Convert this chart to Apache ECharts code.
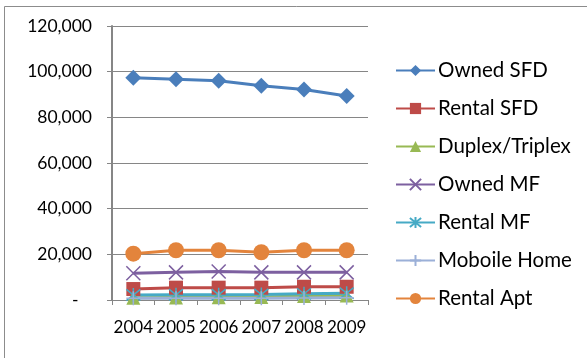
<!DOCTYPE html>
<html>
<head>
<meta charset="utf-8">
<script src="https://cdn.jsdelivr.net/npm/echarts@6/dist/echarts.min.js"></script>
<style>html,body{margin:0;padding:0;background:#fff}#c{width:587px;height:358px}</style>
</head>
<body>
<div id="c"></div>
<script>
var years = ['2004', '2005', '2006', '2007', '2008', '2009'];
var ownedSFD = [97300, 96700, 96000, 93800, 92200, 89300];
var rentalSFD = [4800, 5400, 5400, 5400, 5800, 5800];
var duplexTriplex = [1000, 1100, 1200, 1300, 1800, 2000];
var ownedMF = [11700, 12100, 12500, 12100, 12100, 12100];
var rentalMF = [2200, 2300, 2300, 2400, 2700, 3000];
var mobileHome = [800, 800, 800, 800, 900, 1000];
var rentalApt = [20300, 21800, 21800, 20900, 21800, 21800];
var seriesNames = ['Owned SFD', 'Rental SFD', 'Duplex/Triplex', 'Owned MF', 'Rental MF', 'Moboile Home', 'Rental Apt'];

var font = 'Lato';
var chart = echarts.init(document.getElementById('c'));
function mk(name, data, color, symbol, size, bw) {
  return {
    name: name, type: 'line', data: data, symbol: symbol, symbolSize: size,
    lineStyle: {color: color, width: 3},
    itemStyle: {color: color, borderColor: color, borderWidth: bw || 0},
    animation: false
  };
}
var X = 'path://M0,0L10,10M10,0L0,10';
var STAR = 'path://M5,0L5,10M1,1L9,9M9,1L1,9';
var PLUS = 'path://M5,0L5,10M0,5L10,5';
chart.setOption({
  animation: false,
  graphic: [{type: 'rect', shape: {x: 4.5, y: 6.5, width: 800, height: 800}, style: {fill: 'none', stroke: '#8c8c8c', lineWidth: 1}}],
  grid: {left: 112, right: 219, top: 26, bottom: 58},
  legend: {
    orient: 'vertical', left: 390, top: 55, itemWidth: 39, itemHeight: 14, itemGap: 17,
    textStyle: {fontFamily: font, fontSize: 20.5, lineHeight: 20, color: '#000', padding: [0, 0, 0, -2]},
    data: seriesNames
  },
  xAxis: {
    type: 'category', data: years, boundaryGap: true,
    axisLine: {lineStyle: {color: '#868686', width: 1}},
    axisTick: {show: true, length: 5, lineStyle: {color: '#868686'}},
    axisLabel: {fontFamily: font, fontSize: 17, color: '#000', margin: 19, interval: 0}
  },
  yAxis: {
    type: 'value', min: 0, max: 120000, interval: 20000,
    axisLine: {show: true, lineStyle: {color: '#868686', width: 2}},
    axisTick: {show: true, length: 5, lineStyle: {color: '#868686'}},
    splitLine: {lineStyle: {color: '#868686', width: 1}},
    axisLabel: {fontFamily: font, fontSize: 17.5, color: '#000', margin: 20,
      formatter: function (v) { return v === 0 ? '-   ' : v.toLocaleString('en-US'); }}
  },
  series: [
    mk(seriesNames[0], ownedSFD, '#4A7EBB', 'diamond', 16),
    mk(seriesNames[1], rentalSFD, '#BE4B48', 'rect', 14),
    mk(seriesNames[2], duplexTriplex, '#98B954', 'triangle', 14),
    mk(seriesNames[3], ownedMF, '#7D60A0', X, 14, 1.5),
    mk(seriesNames[4], rentalMF, '#46AAC5', STAR, 14, 1.5),
    mk(seriesNames[5], mobileHome, '#9BB0D8', PLUS, 14, 1.5),
    mk(seriesNames[6], rentalApt, '#E3843C', 'circle', 16)
  ]
});
</script>
</body>
</html>
